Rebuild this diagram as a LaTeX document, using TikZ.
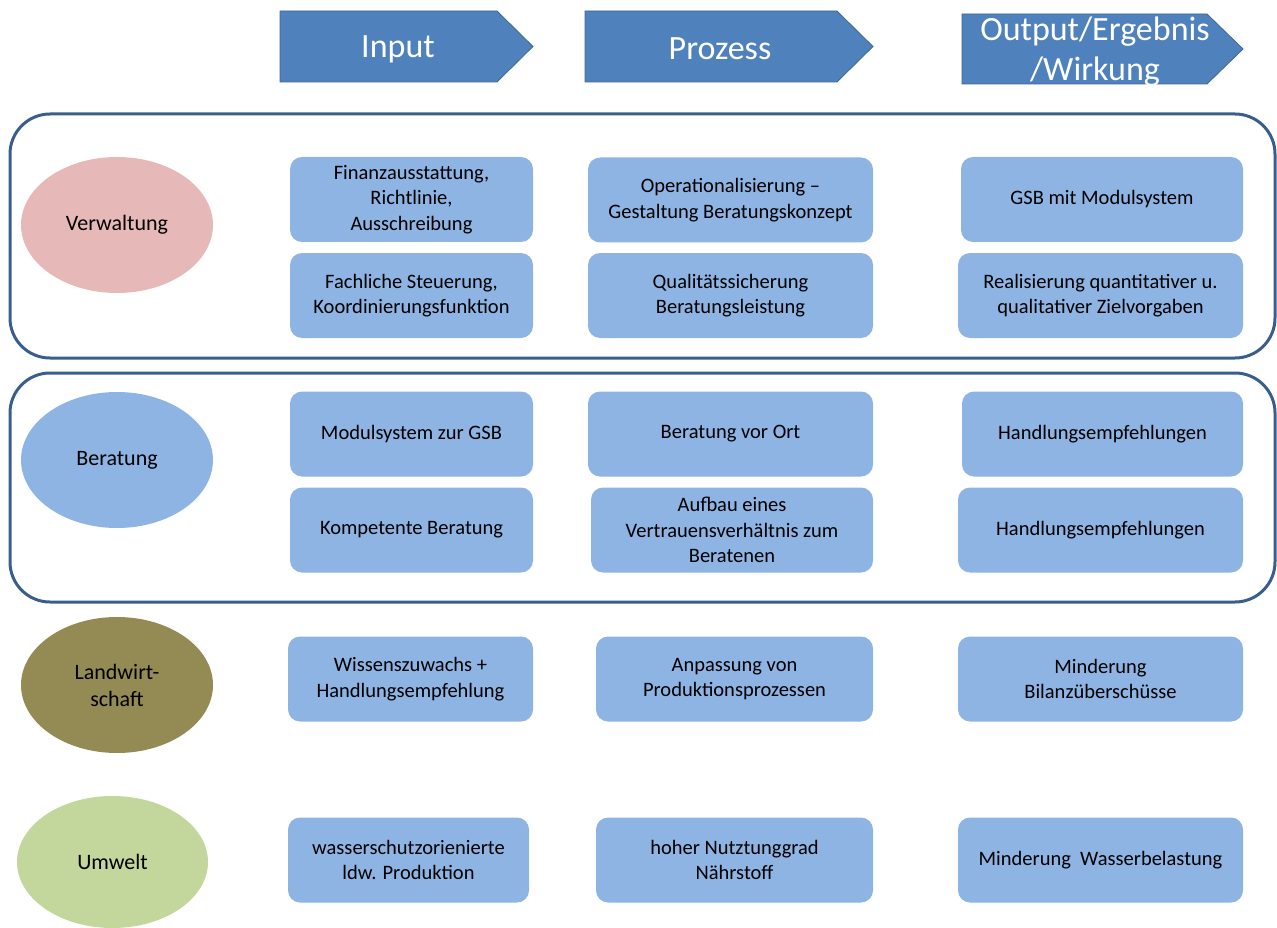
\documentclass[tikz,border=0pt]{standalone}
\usepackage{fontspec}
\setmainfont{Carlito}
\usetikzlibrary{shapes.geometric}

\definecolor{pfeilblau}{HTML}{4F81BD}
\definecolor{pfeilrand}{HTML}{3C6798}
\definecolor{rahmenblau}{HTML}{3A5E8C}
\definecolor{feldblau}{HTML}{8EB4E3}
\definecolor{rosa}{HTML}{E6B9B8}
\definecolor{oliv}{HTML}{948A54}
\definecolor{hellgruen}{HTML}{C3D69B}

\tikzset{
  kopf/.style={fill=pfeilblau, draw=pfeilrand, line width=0.8pt},
  kopftext/.style={text=white, align=center, inner sep=0pt,
    font=\fontsize{34}{40}\selectfont},
  rahmen/.style={draw=rahmenblau, line width=3pt, rounded corners=40pt},
  feld/.style={fill=feldblau, rounded corners=12pt, align=center,
    inner sep=0pt, minimum height=85, font=\fontsize{20.5}{25.5}\selectfont},
  akteur/.style={ellipse, inner sep=0pt, align=center,
    minimum width=192, minimum height=136, font=\fontsize{22}{27}\selectfont}
}

\begin{document}
\begin{tikzpicture}[x=1pt,y=-1pt]
  \useasboundingbox (0,0) rectangle (1277,928);

  % Kopfzeile
  \draw[kopf] (280,11) -- (497,11) -- (533,46.5) -- (497,82) -- (280,82) -- cycle;
  \draw[kopf] (585,11) -- (837,11) -- (873,46.5) -- (837,82) -- (585,82) -- cycle;
  \draw[kopf] (962,14) -- (1207,14) -- (1243,49) -- (1207,84) -- (962,84) -- cycle;

  \node[kopftext] (input) at (398,49) {Input};
  \node[kopftext] (prozess) at (720,49) {Prozess};
  \node[kopftext] (output) at (1095,52) {Output/Ergebnis\\/Wirkung};

  % Rahmen
  \draw[rahmen] (10,114) rectangle (1275,358);
  \draw[rahmen] (10,373) rectangle (1275,602);

  % Akteure
  \node[akteur, fill=rosa] (verwaltung) at (117,225) {Verwaltung};
  \node[akteur, fill=feldblau] (beratung) at (117,460) {Beratung};
  \node[akteur, fill=oliv] (landwirtschaft) at (117,685) {Landwirt-\\schaft};
  \node[akteur, fill=hellgruen, minimum width=191, minimum height=132] (umwelt) at (112.5,862) {Umwelt};

  % Verwaltung
  \node[feld, minimum width=243] (v1in) at (411.5,199.5) {Finanzausstattung,\\Richtlinie,\\Ausschreibung};
  \node[feld, minimum width=285] (v1pr) at (730.5,200) {Operationalisierung --\\Gestaltung Beratungskonzept};
  \node[feld, minimum width=282] (v1out) at (1102,199.5) {GSB mit Modulsystem};
  \node[feld, minimum width=243] (v2in) at (411.5,295.5) {Fachliche Steuerung,\\Koordinierungsfunktion};
  \node[feld, minimum width=285] (v2pr) at (730.5,295.5) {Qualitätssicherung\\Beratungsleistung};
  \node[feld, minimum width=285] (v2out) at (1100.5,295.5) {Realisierung quantitativer u.\\qualitativer Zielvorgaben};

  % Beratung
  \node[feld, minimum width=243] (b1in) at (411.5,434) {Modulsystem zur GSB};
  \node[feld, minimum width=285] (b1pr) at (730.5,434) {Beratung vor Ort};
  \node[feld, minimum width=281] (b1out) at (1102.5,434) {Handlungsempfehlungen};
  \node[feld, minimum width=243] (b2in) at (411.5,530) {Kompetente Beratung};
  \node[feld, minimum width=282] (b2pr) at (732,530) {Aufbau eines\\Vertrauensverhältnis zum\\Beratenen};
  \node[feld, minimum width=285] (b2out) at (1100.5,530) {Handlungsempfehlungen};

  % Landwirtschaft
  \node[feld, minimum width=245] (l1in) at (410.5,679) {Wissenszuwachs +\\Handlungsempfehlung};
  \node[feld, minimum width=277] (l1pr) at (734.5,679) {Anpassung von\\Produktionsprozessen};
  \node[feld, minimum width=285] (l1out) at (1100.5,679) {Minderung\\Bilanzüberschüsse};

  % Umwelt
  \node[feld, minimum width=241] (u1in) at (408.5,860) {wasserschutzorienierte\\ldw. Produktion};
  \node[feld, minimum width=277] (u1pr) at (734.5,860) {hoher Nutztunggrad\\Nährstoff};
  \node[feld, minimum width=285] (u1out) at (1100.5,860) {Minderung\ \ Wasserbelastung};
\end{tikzpicture}
\end{document}
